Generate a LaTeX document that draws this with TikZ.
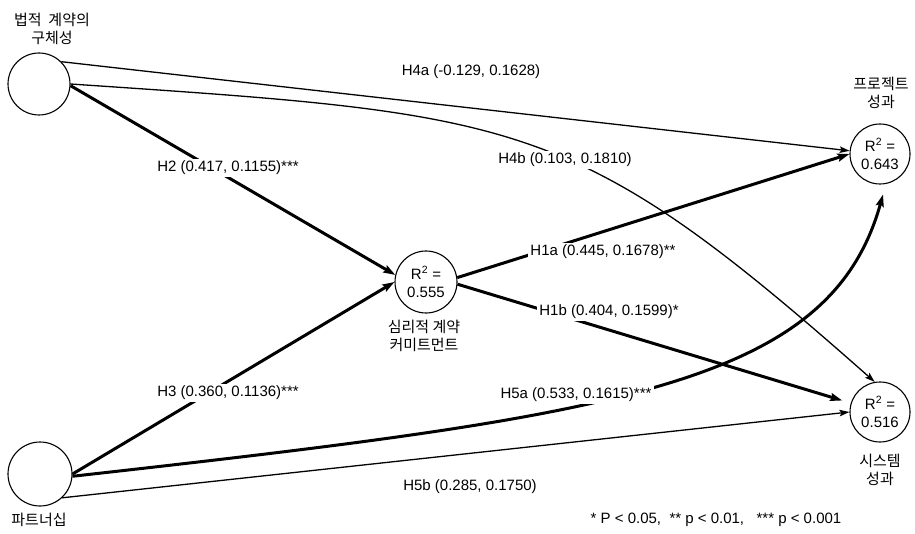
\documentclass[tikz,border=0pt]{standalone}
\usepackage{fontspec}
\setmainfont{Liberation Sans}
\newfontfamily\kr{Noto Sans CJK KR}
\usetikzlibrary{arrows.meta,calc}
\begin{document}
\begin{tikzpicture}[x=1pt,y=-1pt]
\tikzset{
 lv/.style={circle, draw, line width=1.1pt, minimum size=62pt, inner sep=0pt, align=center, font=\fontsize{15}{18}\selectfont},
 thinpath/.style={line width=1.3pt, -{Stealth[length=10pt,width=6.5pt,inset=2pt]}},
 thickpath/.style={line width=3pt, -{Stealth[length=12pt,width=8pt,inset=2pt]}},
 lab/.style={fill=white, inner sep=2.5pt, font=\fontsize{15}{18}\selectfont},
 krlab/.style={align=center, inner sep=0pt, font=\kr\fontsize{15}{18}\selectfont},
}
\useasboundingbox (0,0) rectangle (915,534);
% latent variables
\node[lv] (tl) at (39,84) {};
\node[lv, minimum size=64pt] (bl) at (40,474) {};
\node[lv] (c) at (426,282) {R\textsuperscript{2} =\\0.555};
\node[lv, minimum size=60pt] (tr) at (880,154) {R\textsuperscript{2} =\\0.643};
\node[lv, minimum size=60pt] (br) at (880,412) {R\textsuperscript{2} =\\0.516};
% paths
\draw[thinpath] (tl.45) -- (tr.174);
\draw[thinpath] (tl.east) .. controls (522,114.5) and (574,116) .. (br.100);
\draw[thickpath] (tl.-3) -- (c.167);
\draw[thickpath] (bl.east) -- (c.west);
\draw[thickpath] (c.8) -- (tr.west);
\draw[thickpath, shorten >=9pt] (c.-4) -- (br.163);
\draw[thickpath] (bl.-4) .. controls (620,415) and (830,385) .. ($(tr.south)+(3,10)$);
\draw[thinpath] (bl.-47) -- (br.west);
% path labels
\node[lab] (l4a) at (471,72) {H4a (-0.129, 0.1628)};
\node[lab] (l4b) at (565,160) {H4b (0.103, 0.1810)};
\node[lab] (l2) at (228,168) {H2 (0.417, 0.1155)***};
\node[lab] (l3) at (228,393) {H3 (0.360, 0.1136)***};
\node[lab] (l1a) at (603,252) {H1a (0.445, 0.1678)**};
\node[lab] (l1b) at (609,312) {H1b (0.404, 0.1599)*};
\node[lab] (l5a) at (576,395) {H5a (0.533, 0.1615)***};
\node[lab] (l5b) at (470,487) {H5b (0.285, 0.1750)};
\node[lab] (fn) at (716,520) {* P < 0.05,\ \ ** p < 0.01,\ \ \ *** p < 0.001};
% construct names
\node[krlab] (tlt) at (52,29) {법적\ \ 계약의\\구체성};
\node[krlab] (trt) at (881,93) {프로젝트\\성과};
\node[krlab] (brt) at (880,470) {시스템\\성과};
\node[krlab] (ct) at (424,336) {심리적 계약\\커미트먼트};
\node[krlab] (blt) at (39,520) {파트너십};
\end{tikzpicture}
\end{document}
